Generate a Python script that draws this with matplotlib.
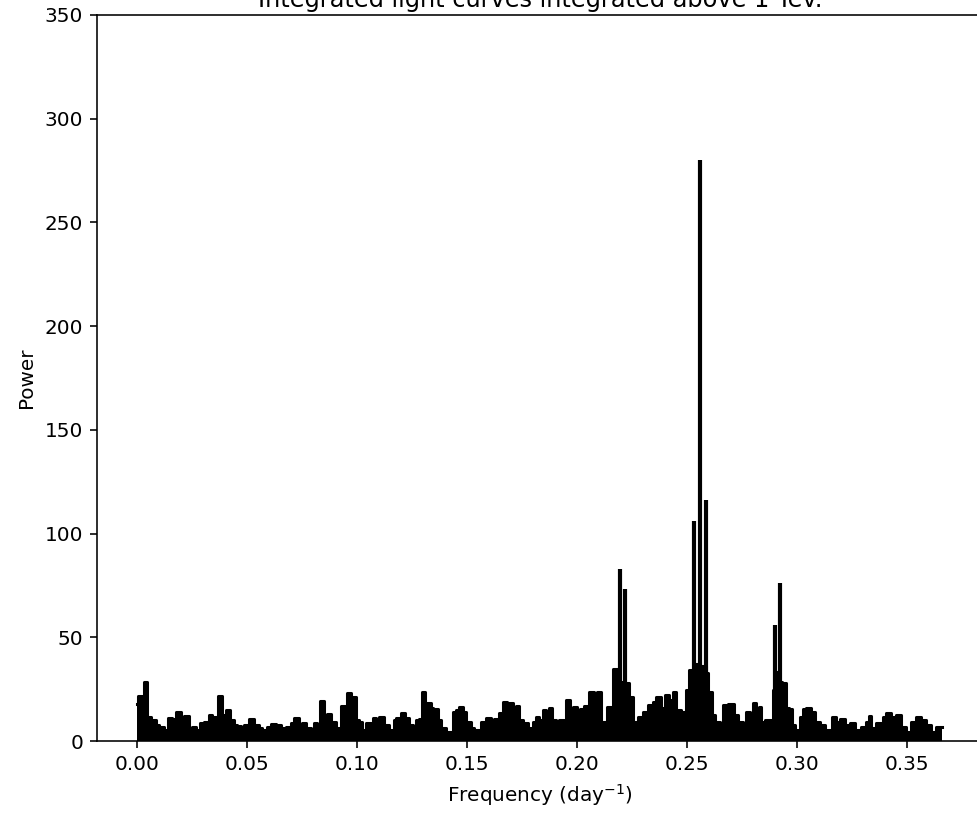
import numpy as np
import matplotlib
matplotlib.use("Agg")
import matplotlib.pyplot as plt

# periodogram envelope (freq in day^-1, power)
env_freq = [
    0.0000, 0.0005, 0.0020, 0.0030, 0.0046, 0.0061, 0.0084, 0.0099, 0.0122, 0.0141,
    0.0156, 0.0178, 0.0197, 0.0213, 0.0235, 0.0250, 0.0266, 0.0284, 0.0304, 0.0326,
    0.0342, 0.0365, 0.0384, 0.0402, 0.0420, 0.0440, 0.0455, 0.0470, 0.0486, 0.0508,
    0.0531, 0.0554, 0.0569, 0.0592, 0.0607, 0.0630, 0.0653, 0.0675, 0.0698, 0.0713,
    0.0736, 0.0751, 0.0766, 0.0789, 0.0804, 0.0819, 0.0832, 0.0850, 0.0865, 0.0883,
    0.0903, 0.0926, 0.0949, 0.0956, 0.0974, 0.0994, 0.1009, 0.1024, 0.1040, 0.1062,
    0.1070, 0.1085, 0.1100, 0.1123, 0.1146, 0.1168, 0.1176, 0.1199, 0.1219, 0.1237,
    0.1252, 0.1267, 0.1282, 0.1294, 0.1310, 0.1335, 0.1346, 0.1366, 0.1381, 0.1404,
    0.1434, 0.1450, 0.1465, 0.1480, 0.1495, 0.1517, 0.1533, 0.1563, 0.1586, 0.1609,
    0.1624, 0.1646, 0.1662, 0.1681, 0.1692, 0.1710, 0.1722, 0.1737, 0.1752, 0.1775,
    0.1798, 0.1813, 0.1828, 0.1844, 0.1859, 0.1874, 0.1885, 0.1905, 0.1920, 0.1939,
    0.1950, 0.1970, 0.1980, 0.2000, 0.2015, 0.2033, 0.2056, 0.2079, 0.2089, 0.2109,
    0.2135, 0.2162, 0.2185, 0.2208, 0.2238, 0.2256, 0.2276, 0.2299, 0.2322, 0.2344,
    0.2359, 0.2382, 0.2402, 0.2420, 0.2435, 0.2450, 0.2473, 0.2496, 0.2511, 0.2534,
    0.2560, 0.2587, 0.2595, 0.2613, 0.2625, 0.2648, 0.2663, 0.2686, 0.2713, 0.2731,
    0.2754, 0.2769, 0.2785, 0.2799, 0.2815, 0.2825, 0.2837, 0.2853, 0.2891, 0.2903,
    0.2913, 0.2932, 0.2951, 0.2962, 0.2977, 0.2989, 0.3012, 0.3027, 0.3042, 0.3065,
    0.3081, 0.3103, 0.3126, 0.3161, 0.3179, 0.3197, 0.3217, 0.3239, 0.3262, 0.3293,
    0.3315, 0.3328, 0.3338, 0.3361, 0.3391, 0.3406, 0.3429, 0.3452, 0.3475, 0.3497,
    0.3520, 0.3543, 0.3566, 0.3588, 0.3611, 0.3634, 0.3661,
]
env_power = [
    18.0, 21.7, 19.0, 28.6, 11.7, 10.0, 7.7, 6.6, 5.3, 11.0,
    10.5, 14.0, 11.7, 12.0, 5.3, 6.6, 5.3, 8.5, 9.3, 12.5,
    11.7, 21.7, 12.5, 15.0, 10.0, 7.7, 7.0, 5.6, 7.7, 10.5,
    7.7, 6.1, 5.3, 6.6, 8.2, 7.7, 6.1, 6.6, 8.5, 10.9,
    6.9, 8.5, 6.1, 5.3, 8.8, 7.7, 19.5, 10.0, 13.0, 9.3,
    6.1, 16.9, 11.7, 23.3, 21.4, 10.0, 9.3, 5.3, 8.5, 6.9,
    10.9, 10.0, 11.7, 7.7, 5.3, 10.0, 10.9, 13.3, 10.9, 7.7,
    6.1, 10.0, 10.5, 23.8, 18.5, 15.8, 15.3, 10.0, 6.1, 4.5,
    14.1, 15.0, 16.6, 14.1, 9.3, 6.1, 5.3, 9.3, 10.9, 10.0,
    10.5, 13.3, 19.0, 13.3, 18.5, 14.1, 16.9, 10.0, 8.5, 6.1,
    9.3, 11.7, 10.0, 15.0, 10.9, 15.8, 10.0, 6.1, 10.0, 4.5,
    19.8, 11.7, 16.6, 10.0, 15.3, 16.9, 23.8, 19.8, 23.8, 9.3,
    16.6, 34.6, 28.6, 27.8, 21.4, 9.3, 11.7, 14.1, 17.4, 19.0,
    21.4, 15.8, 22.2, 19.8, 23.8, 15.0, 14.1, 24.6, 34.2, 37.0,
    36.0, 33.0, 23.8, 12.5, 9.3, 5.3, 17.4, 17.8, 12.5, 9.3,
    5.3, 14.1, 12.5, 18.5, 14.1, 16.2, 9.3, 10.1, 24.6, 33.4,
    28.6, 27.8, 15.8, 15.3, 7.7, 5.3, 11.7, 15.3, 15.8, 14.1,
    9.3, 7.7, 5.3, 11.7, 9.3, 10.5, 7.7, 8.5, 5.3, 6.9,
    9.3, 12.1, 6.1, 8.5, 11.7, 13.3, 11.7, 12.5, 6.9, 4.5,
    9.3, 11.4, 10.1, 7.7, 4.5, 6.6, 6.6,
]

# narrow peaks that stick out of the envelope
spike_freq = [0.2193, 0.2220, 0.2531, 0.2557, 0.2587, 0.2898, 0.2925]
spike_power = [83.0, 73.5, 106.0, 280.0, 116.0, 56.0, 76.0]

S = 1.44  # original was rendered at ~144 dpi
plt.rcParams.update({
    "font.size": 10 * S,
    "axes.linewidth": 0.8 * S,
    "xtick.major.size": 3.5 * S,
    "ytick.major.size": 3.5 * S,
    "xtick.major.width": 0.8 * S,
    "ytick.major.width": 0.8 * S,
    "xtick.major.pad": 3.5 * S,
    "ytick.major.pad": 3.5 * S,
    "axes.labelpad": 4 * S,
})

fig = plt.figure(figsize=(9.77, 8.13), dpi=100)
ax = fig.add_axes([97 / 977, 72 / 813, 885.6 / 977, 726 / 813])

ax.fill_between(env_freq, env_power, step="post", color="black", lw=0)
ax.step(env_freq, env_power, where="post", color="black", lw=2.2)
ax.vlines(spike_freq, 0, spike_power, color="black", lw=3.0)

ax.set_xlim(-0.0183, 0.3844)
ax.set_ylim(0, 350)
ax.set_xticks([0.0, 0.05, 0.10, 0.15, 0.20, 0.25, 0.30, 0.35])
ax.set_xlabel("Frequency (day$^{-1}$)")
ax.set_ylabel("Power")
# title sits partly above the figure edge, as in the cropped original
ax.set_title("Integrated light curves integrated above 1 Tev.", fontsize=12 * S, pad=5.5)

fig.savefig("out.png", dpi=100)
